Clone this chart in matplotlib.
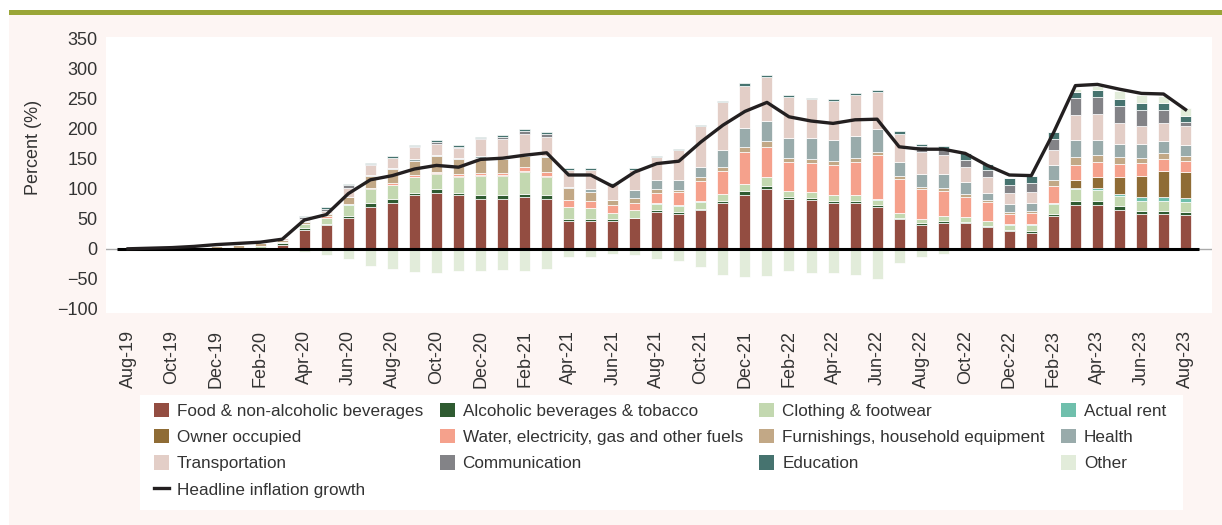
import numpy as np
import pandas as pd
import matplotlib
matplotlib.use('Agg')
from matplotlib import pyplot as plt
from matplotlib.patches import Rectangle
from matplotlib.lines import Line2D

plt.rcParams['font.family'] = ['Liberation Sans', 'DejaVu Sans']

# months Aug-19 .. Aug-23
months = pd.date_range('2019-08-01', '2023-08-01', freq='MS').strftime('%b-%y').tolist()

food = [0.5, 0, 0, -1, 0, 0, 1, 7, 32, 39, 51, 69, 77, 89, 93, 89, 83, 83, 87, 83,
        47, 47, 47, 51, 61, 58, 64, 77, 90, 100, 83, 81, 77, 76, 69, 50, 40, 43, 43, 36,
        29, 27, 54, 73, 73, 64, 58, 58, 56]
alcohol = [0, 0, 0, 0, 0, 0, 1, 2, 2, 3, 3, 8, 6, 4, 7, 4, 7, 6, 5, 6,
           3, 3, 2, 1, 3, 3, 2, 2, 6, 5, 4, 4, 3, 3, 4, 2, 3, 3, 2, 2,
           3, 3, 4, 7, 7, 7, 5, 5, 6]
clothing = [0, 0, 0, 0, 0, 0, 3, 3, 7, 10, 19, 23, 23, 26, 25, 27, 32, 33, 36, 31,
            19, 18, 10, 12, 11, 11, 12, 12, 12, 14, 9, 9, 10, 10, 9, 8, 7, 8, 8, 8,
            8, 10, 16, 19, 18, 17, 17, 17, 16]
actual_rent = [0, 0, 0, 0, 0, -1, 0, 0, 0, 0, 1, 0, 0, 0, 0, 0, 0, 0, 0, 0,
               0, 0, 0, 0, 1, 1, 2, 1, 0, 0, 0, 0, 0, 0, 1, 0, 0, 0, 0.5, 0.5,
               0.5, 0.5, 3, 3, 4, 3, 7, 7, 6]
owner = [0, 0, 0, 0, 0, 0, 0, 0, 0, 0, 0, 1, 1, 1, 1, 1, 1, 1, 1, 1,
         0, 0, 0, 0, 0, 0, 0, 0, 0, 0, 0, 0, 0, 0, 0, 0, 0, 0, 0, 0,
         0, 0, 0, 12, 17, 29, 35, 42, 44]
water = [0, -1, -1, -1, 0, 0, 0, -1, 0, 2, 0, 1, 2, 3, 2, 3, 3, 3, 7, 7,
         12, 12, 14, 13, 17, 21, 33, 38, 53, 51, 48, 49, 50, 56, 73, 57, 49, 42, 32, 32,
         17, 19, 27, 25, 26, 21, 21, 21, 19]
furnishings = [0, 0, 0, 0, 4, 6, 4, 2, 4, 4, 12, 19, 24, 24, 27, 25, 26, 23, 19, 25,
               20, 15, 8, 8, 6, 4, 6, 6, 9, 9, 7, 7, 7, 7, 5, 4, 4, 6, 5, 3,
               4, 3, 11, 14, 12, 12, 9, 9, 8]
health = [1, 0, 0, 0, 0, 0, 0, 1, 2, 1, 1, 2, 2, 2, 1, 2, 2, 3, 3, 1,
          2, 4, 1, 13, 15, 17, 18, 29, 31, 34, 34, 34, 34, 36, 38, 23, 21, 22, 21, 12,
          13, 14, 24, 29, 25, 22, 23, 20, 18]
transport = [0, 0, 0, 0, 0, 1, 1, 3, 3, 4, 15, 16, 16, 20, 19, 17, 29, 31, 34, 32,
             29, 32, 24, 34, 39, 49, 68, 79, 71, 73, 68, 65, 65, 69, 63, 48, 37, 33, 25, 26,
             18, 18, 25, 41, 43, 35, 29, 31, 32]
communication = [0, 0, 0, 0, 0, 0, 0, 0, 3, 4, 4, 2, 1, 2, 3, 2, 1, 3, 4, 6,
                 0, 0, 0, 0, 0, 0, 0, 0, 0, 0, 0, 0, 0, 0, 0, 0, 11, 9, 12, 12,
                 13, 15, 19, 28, 28, 28, 28, 22, 6]
education = [0, 0, 0, 0, 0, 0, 0, 0, 2, 2, 2, 2, 3, 2, 3, 3, 3, 3, 4, 2,
             2, 3, 4, 3, 2, 2, 2, 3, 4, 4, 4, 3, 3, 3, 3, 4, 3, 5, 11, 10,
             13, 12, 11, 11, 11, 11, 11, 11, 11]
other = [-1, 0, 0, 0, 0, 0, 0, 0, -6, -11, -17, -28, -33, -39, -41, -37, -37, -35, -37, -33,
         -13, -13, -8, -10, -17, -20, -31, -43, -47, -46, -37, -41, -41, -43, -50, -24, -14, -8, 0, 0,
         0, 0, 0, 4, 7, 14, 14, 12, 12]
headline = [0, 1, 2, 4, 7, 9, 11, 16, 48, 57, 92, 115, 122, 133, 139, 136, 149, 151, 156, 160,
            123, 123, 104, 128, 142, 146, 178, 206, 229, 244, 220, 213, 209, 215, 216, 170, 166, 166, 159, 139,
            123, 122, 193, 272, 274, 266, 259, 258, 232]

series = [
    ('Food & non-alcoholic beverages', food, '#934d41'),
    ('Alcoholic beverages & tobacco', alcohol, '#2f5b31'),
    ('Clothing & footwear', clothing, '#c3d8b0'),
    ('Actual rent', actual_rent, '#6fbfac'),
    ('Owner occupied', owner, '#8f6c35'),
    ('Water, electricity, gas and other fuels', water, '#f5a18c'),
    ('Furnishings, household equipment', furnishings, '#c2a886'),
    ('Health', health, '#99abab'),
    ('Transportation', transport, '#e3cec7'),
    ('Communication', communication, '#838387'),
    ('Education', education, '#46736f'),
    ('Other', other, '#e2ecda'),
]

W, H = 1222, 525
fig = plt.figure(figsize=(W / 100, H / 100), dpi=100, facecolor='white')
fig.add_artist(Rectangle((9 / W, 0), 1, 1 - 15 / H, transform=fig.transFigure,
                         facecolor='#fdf5f3', edgecolor='none', zorder=-10))
fig.add_artist(Rectangle((9 / W, 1 - 15 / H), 1, 5 / H, transform=fig.transFigure,
                         facecolor='#9aa537', edgecolor='none', zorder=-10))
# white legend panel
fig.add_artist(Rectangle((140 / W, 1 - 510 / H), 1043 / W, 115 / H, transform=fig.transFigure,
                         facecolor='white', edgecolor='none', zorder=-5))

ax = fig.add_axes([106 / W, 1 - 313 / H, 1106 / W, 276 / H])
ax.set_facecolor('white')

x = np.arange(len(months))
pos_bottom = np.zeros(len(months))
neg_bottom = np.zeros(len(months))
handles = {}
for name, vals, col in series:
    v = np.array(vals, dtype=float)
    bottom = np.where(v >= 0, pos_bottom, neg_bottom)
    ax.bar(x, v, 0.5, bottom=bottom, color=col, edgecolor='white', linewidth=0.5, zorder=2)
    handles[name] = Rectangle((0, 0), 1, 1, facecolor=col, edgecolor='none')
    pos_bottom += np.where(v >= 0, v, 0)
    neg_bottom += np.where(v < 0, v, 0)

ax.axhline(0, color='#aaaaaa', lw=1, zorder=3)
ax.hlines(0, -0.5, len(months) - 0.4, color='black', lw=2.2, zorder=4)
ax.plot(x, headline, color='#231f20', lw=2.4, zorder=5, solid_joinstyle='round')
handles['Headline inflation growth'] = Line2D([], [], color='#231f20', lw=2.4)

ax.set_xlim(-1, 49.2)
ax.set_ylim(-107, 353)
ax.set_yticks(np.arange(-100, 351, 50))
ax.set_yticklabels([str(t).replace('-', '\u2212') for t in range(-100, 351, 50)])
ax.set_xticks(x[::2])
ax.set_xticklabels(months[::2], rotation=90)
ax.tick_params(axis='both', length=0, labelsize=13, colors='#333333')
ax.tick_params(axis='x', pad=12)
ax.tick_params(axis='y', pad=6)
for s in ax.spines.values():
    s.set_visible(False)
ax.set_ylabel('Percent (%)', fontsize=13, color='#333333')
ax.yaxis.set_label_coords(-0.058, 0.6)

order = ['Food & non-alcoholic beverages', 'Owner occupied', 'Transportation', 'Headline inflation growth',
         'Alcoholic beverages & tobacco', 'Water, electricity, gas and other fuels', 'Communication',
         'Clothing & footwear', 'Furnishings, household equipment', 'Education',
         'Actual rent', 'Health', 'Other']
leg = fig.legend([handles[k] for k in order], order, ncol=4, loc='upper left',
                 bbox_to_anchor=(154 / W, 1 - 403 / H), bbox_transform=fig.transFigure,
                 fontsize=12.3, frameon=False, handlelength=0.9, handleheight=0.9, handletextpad=0.45,
                 columnspacing=0.95, labelspacing=0.6, borderpad=0, borderaxespad=0)
for t in leg.get_texts():
    t.set_color('#333333')

plt.savefig('out.png', dpi=100, facecolor=fig.get_facecolor())
